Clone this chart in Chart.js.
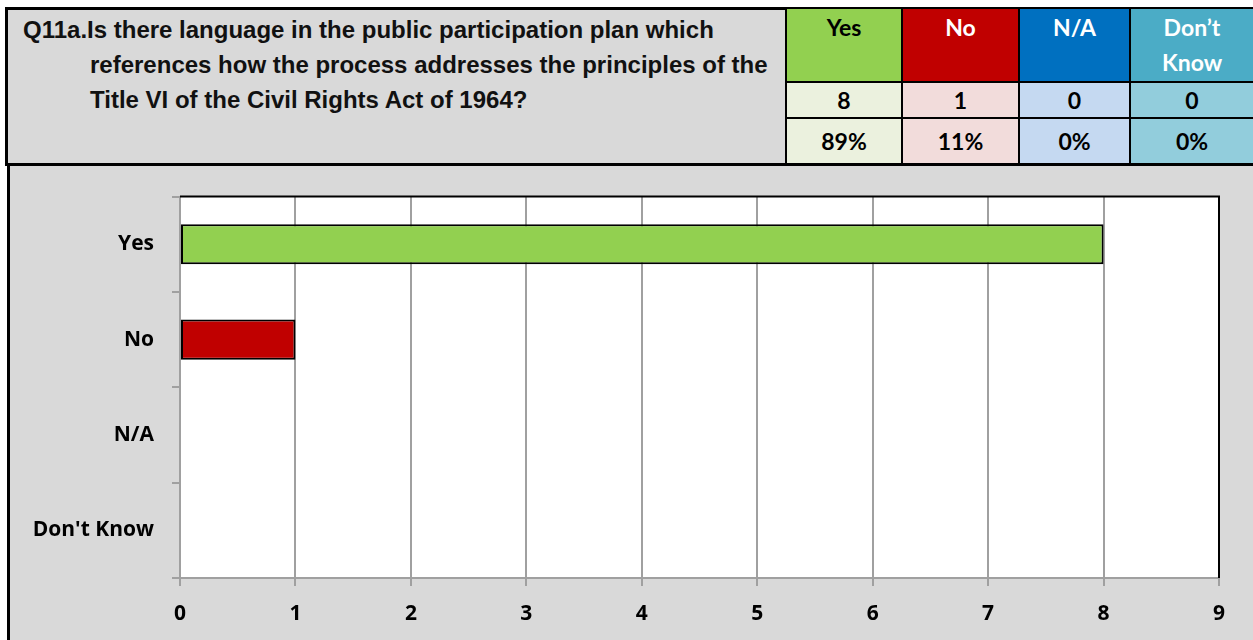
<!DOCTYPE html>
<html lang="en">
<head>
<meta charset="UTF-8">
<title>Q11a</title>
<script src="https://cdn.jsdelivr.net/npm/chart.js@4.4.1/dist/chart.umd.min.js"></script>
<style>
    html, body { margin: 0; padding: 0; background: #fff; }
    body { width: 1253px; height: 640px; position: relative; overflow: hidden; }
    .head {
        position: absolute; left: 5px; top: 7px; width: 1260px; height: 159px;
        border: 3px solid #000; border-right: none; box-sizing: border-box;
        background: #d9d9d9;
    }
    .question {
        position: absolute; left: 15px; top: 2px;
        font-family: "Liberation Sans", Arial, sans-serif;
        font-weight: bold; font-size: 24px; line-height: 35px; color: #111;
        white-space: nowrap;
    }
    .question div + div { padding-left: 67px; }
    table.counts {
        position: absolute; left: 777px; top: -3px; border-collapse: collapse;
        font-family: Lato, "Open Sans", sans-serif; font-weight: bold;
    }
    table.counts td {
        border: 2px solid #000; text-align: center; padding: 0; color: #000;
        font-size: 23px;
    }
    table.counts tr.hdr td { height: 71px; vertical-align: top; line-height: 35px; padding-top: 1px; color: #fff; }
    table.counts tr.num td { height: 34px; }
    table.counts tr.pct td { height: 44px; }
    .chartbox {
        position: absolute; left: 7px; top: 166px; width: 1246px; height: 474px;
        border-left: 3px solid #000; background: #d9d9d9; box-sizing: border-box;
    }
</style>
</head>
<body>
<div class="head">
    <div class="question" id="question"></div>
    <table class="counts" id="counts"></table>
</div>
<div class="chartbox">
    <canvas id="chart" width="1243" height="474"></canvas>
</div>

<script>
    // chart data
    const questionLines = [
        'Q11a.Is there language in the public participation plan which',
        'references how the process addresses the principles of the',
        'Title VI of the Civil Rights Act of 1964?'
    ];
    const categories = ['Yes', 'No', 'N/A', "Don't Know"];
    const headerLabels = ['Yes', 'No', 'N/A', 'Don\u2019t\nKnow'];
    const counts = [8, 1, 0, 0];
    const percents = ['89%', '11%', '0%', '0%'];
    const xTicks = [0, 1, 2, 3, 4, 5, 6, 7, 8, 9];

    const barColors = ['#92d050', '#c00000', '#0070c0', '#4bacc6'];
    const lightColors = ['#ebf1de', '#f2dcdb', '#c5d9f1', '#92cddc'];
    const colWidths = [114, 115, 109, 122];

    const q = document.getElementById('question');
    questionLines.forEach(line => {
        const d = document.createElement('div');
        d.textContent = line;
        q.appendChild(d);
    });

    // header table with counts and percentages
    const tbl = document.getElementById('counts');
    const rows = [['hdr', headerLabels], ['num', counts], ['pct', percents]];
    rows.forEach(([cls, vals]) => {
        const tr = document.createElement('tr');
        tr.className = cls;
        vals.forEach((v, i) => {
            const td = document.createElement('td');
            td.style.whiteSpace = 'pre-line';
            td.textContent = v;
            td.style.width = colWidths[i] + 'px';
            td.style.background = cls === 'hdr' ? barColors[i] : lightColors[i];
            if (cls === 'hdr' && i === 0) td.style.color = '#000';
            tr.appendChild(td);
        });
        tbl.appendChild(tr);
    });

    // white plot area plus black top/right frame
    const plotFrame = {
        id: 'plotFrame',
        beforeDraw(chart) {
            const { ctx, chartArea: a } = chart;
            ctx.save();
            ctx.fillStyle = '#fff';
            ctx.fillRect(a.left, a.top, a.right - a.left, a.bottom - a.top);
            ctx.restore();
        },
        afterDraw(chart) {
            const { ctx, chartArea: a } = chart;
            ctx.save();
            ctx.strokeStyle = '#000';
            ctx.lineWidth = 2;
            ctx.beginPath();
            ctx.moveTo(a.left, a.top);
            ctx.lineTo(a.right, a.top);
            ctx.lineTo(a.right, a.bottom);
            ctx.stroke();
            ctx.restore();
        }
    };

    const tickFont = { family: '"Open Sans", Lato, sans-serif', weight: 'bold', size: 21 };

    function draw() {
        new Chart(document.getElementById('chart'), {
            type: 'bar',
            data: {
                labels: categories,
                datasets: [{
                    data: counts,
                    backgroundColor: barColors,
                    borderColor: '#000',
                    borderWidth: 2,
                    borderSkipped: false,
                    barPercentage: 0.42,
                    categoryPercentage: 1
                }]
            },
            options: {
                indexAxis: 'y',
                responsive: false,
                animation: false,
                layout: { padding: { top: 26, right: 34, left: 0, bottom: 0 } },
                plugins: { legend: { display: false }, tooltip: { enabled: false } },
                scales: {
                    x: {
                        min: 0, max: 9,
                        afterBuildTicks: (s) => { s.ticks = xTicks.map(v => ({ value: v })); },
                        grid: { color: '#a0a0a0', lineWidth: 2, tickLength: 8 },
                        border: { color: '#a0a0a0', width: 2 },
                        ticks: { color: '#000', font: tickFont, padding: 15 },
                        afterFit: (s) => { s.height = 62; }
                    },
                    y: {
                        grid: { color: '#a0a0a0', lineWidth: 2, tickLength: 8, drawOnChartArea: false, offset: true },
                        border: { color: '#a0a0a0', width: 2 },
                        ticks: { color: '#000', font: tickFont, padding: 18 },
                        afterFit: (s) => { s.width = 170; }
                    }
                }
            },
            plugins: [plotFrame]
        });
    }

    // make sure the bold face is ready before drawing on canvas
    document.fonts.load('bold 21px "Open Sans"').then(draw, draw);
</script>
</body>
</html>
